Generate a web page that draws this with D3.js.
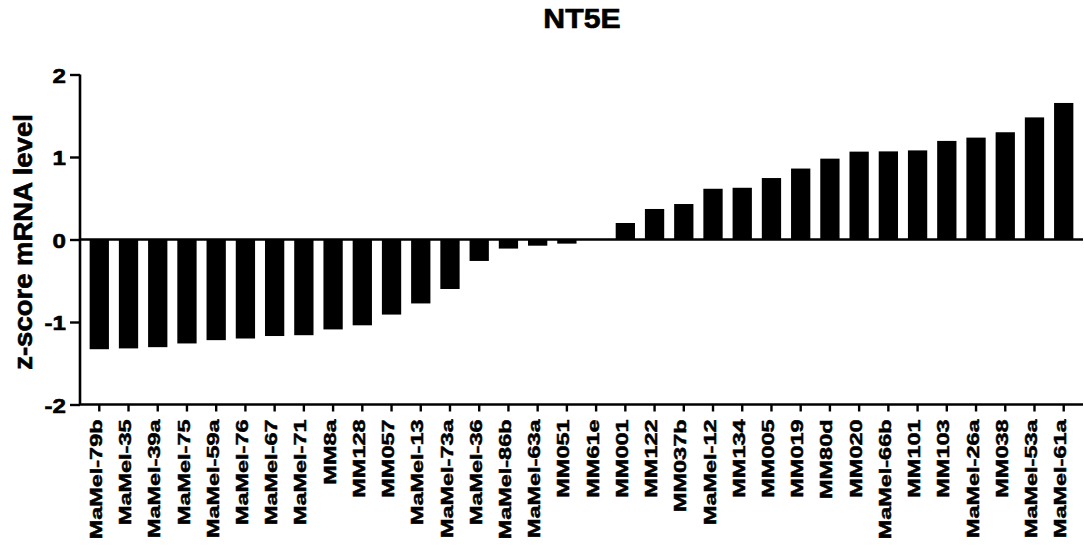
<!DOCTYPE html>
<html>
<head>
<meta charset="utf-8">
<script src="https://cdn.jsdelivr.net/npm/d3@7"></script>
<style>
  html, body { margin: 0; padding: 0; background: #fff; }
  svg { display: block; }
  text { font-family: "Liberation Sans", Arial, Helvetica, sans-serif; font-weight: bold; fill: #000; stroke: #000; }
</style>
</head>
<body>
<svg id="chart" width="1084" height="550"></svg>
<script>
// Cell lines, ordered by NT5E expression
const cellLines = [
  "MaMel-79b", "MaMel-35", "MaMel-39a", "MaMel-75", "MaMel-59a", "MaMel-76",
  "MaMel-67", "MaMel-71", "MM8a", "MM128", "MM057", "MaMel-13", "MaMel-73a",
  "MaMel-36", "MaMel-86b", "MaMel-63a", "MM051", "MM61e", "MM001", "MM122",
  "MM037b", "MaMel-12", "MM134", "MM005", "MM019", "MM80d", "MM020",
  "MaMel-66b", "MM101", "MM103", "MaMel-26a", "MM038", "MaMel-53a", "MaMel-61a"
];

// z-score of NT5E mRNA level per cell line
const zScores = [
  -1.33, -1.32, -1.305, -1.26, -1.22, -1.20,
  -1.17, -1.16, -1.09, -1.04, -0.91, -0.775, -0.60,
  -0.26, -0.11, -0.075, -0.05, 0.0, 0.20, 0.37,
  0.43, 0.615, 0.627, 0.745, 0.86, 0.98, 1.065,
  1.068, 1.08, 1.195, 1.235, 1.30, 1.48, 1.655
];

const yTicks = [-2, -1, 0, 1, 2];
const chartTitle = "NT5E";
const yTitle = "z-score mRNA level";

const svg = d3.select("#chart");

const x = d3.scaleBand()
  .domain(cellLines)
  .range([80, 1083])
  .paddingInner(0.34)
  .paddingOuter(0.33);

const y = d3.scaleLinear()
  .domain([-2, 2])
  .range([404.5, 74.5]);

// bars
svg.append("g")
  .selectAll("rect")
  .data(cellLines)
  .join("rect")
  .attr("x", d => x(d))
  .attr("width", x.bandwidth())
  .attr("y", (d, i) => y(Math.max(0, zScores[i])))
  .attr("height", (d, i) => Math.abs(y(zScores[i]) - y(0)))
  .attr("fill", "#000");

// zero line
svg.append("line")
  .attr("x1", 80).attr("x2", 1083)
  .attr("y1", y(0)).attr("y2", y(0))
  .attr("stroke", "#000").attr("stroke-width", 2.6);

// y axis
const yAxis = svg.append("g")
  .attr("transform", "translate(80,0)")
  .call(d3.axisLeft(y).tickValues(yTicks).tickFormat(d => String(d)).tickSize(10).tickPadding(4));
yAxis.select(".domain").attr("stroke-width", 2.6).attr("d", `M0,${y(2)}V${y(-2)}`);
yAxis.selectAll(".tick line").attr("stroke-width", 2.4);
yAxis.selectAll(".tick text")
  .attr("font-size", 21)
  .attr("font-family", null)
  .attr("fill", "#000")
  .attr("stroke-width", 0.6)
  .attr("dy", "0.36em")
  .each(function() {
    const t = d3.select(this);
    const tx = +t.attr("x");
    t.attr("x", null).attr("transform", `translate(${tx},0) scale(1.15,1)`);
  });

// x axis
const xAxis = svg.append("g")
  .attr("transform", `translate(0,${y(-2)})`)
  .call(d3.axisBottom(x).tickSize(7).tickSizeOuter(0));
xAxis.select(".domain").attr("stroke-width", 2.6).attr("d", "M80,0H1083");
xAxis.selectAll(".tick line").attr("stroke-width", 2.4);
xAxis.selectAll(".tick text")
  .attr("font-size", 17)
  .attr("font-family", null)
  .attr("fill", "#000")
  .attr("stroke-width", 0.5)
  .attr("x", null).attr("y", null).attr("dy", "0.15em")
  .attr("text-anchor", "end")
  .attr("transform", "translate(0,15) rotate(-90) scale(1.38,1)");

// title
svg.append("text")
  .attr("transform", "translate(582,28) scale(1.12,1)")
  .attr("text-anchor", "middle")
  .attr("font-size", 27)
  .attr("stroke-width", 0.6)
  .text(chartTitle);

// y axis title
svg.append("text")
  .attr("transform", `translate(32,${242}) rotate(-90) scale(1.1,1)`)
  .attr("text-anchor", "middle")
  .attr("font-size", 25)
  .attr("stroke-width", 0.6)
  .text(yTitle);
</script>
</body>
</html>
